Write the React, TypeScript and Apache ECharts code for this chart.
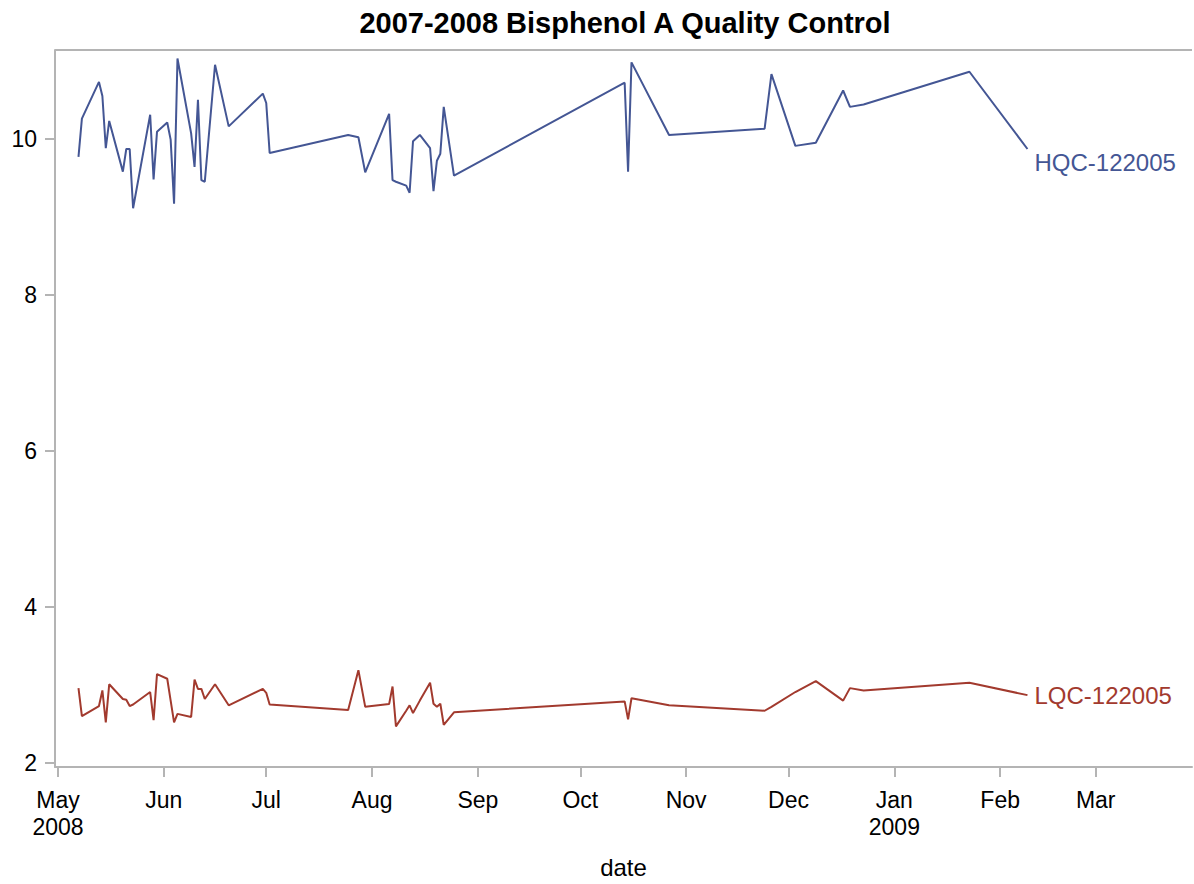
import React, { useEffect, useRef } from "react";
import * as echarts from "echarts";

const dates: string[] = [
  "2008-05-07", "2008-05-08", "2008-05-13", "2008-05-14", "2008-05-15", "2008-05-16",
  "2008-05-20", "2008-05-21", "2008-05-22", "2008-05-23", "2008-05-28", "2008-05-29", "2008-05-30",
  "2008-06-02", "2008-06-03", "2008-06-04", "2008-06-05", "2008-06-09", "2008-06-10", "2008-06-11",
  "2008-06-12", "2008-06-13", "2008-06-16", "2008-06-20", "2008-06-30",
  "2008-07-01", "2008-07-02", "2008-07-25", "2008-07-28", "2008-07-30",
  "2008-08-06", "2008-08-07", "2008-08-08", "2008-08-11", "2008-08-12", "2008-08-13", "2008-08-15",
  "2008-08-18", "2008-08-19", "2008-08-20", "2008-08-21", "2008-08-22", "2008-08-25",
  "2008-10-14", "2008-10-15", "2008-10-16", "2008-10-27",
  "2008-11-24", "2008-11-26",
  "2008-12-03", "2008-12-09", "2008-12-17", "2008-12-19", "2008-12-23",
  "2009-01-23", "2009-02-09",
];

const hqcValues: number[] = [
  9.77, 10.26, 10.73, 10.55, 9.88, 10.23,
  9.58, 9.87, 9.87, 9.11, 10.31, 9.48, 10.09,
  10.21, 9.99, 9.17, 11.03, 10.07, 9.64, 10.5,
  9.47, 9.45, 10.95, 10.16, 10.58,
  10.46, 9.82, 10.05, 10.02, 9.57,
  10.32, 9.47, 9.45, 9.4, 9.31, 9.97, 10.05,
  9.88, 9.33, 9.72, 9.81, 10.41, 9.53,
  10.72, 9.58, 10.98, 10.05,
  10.13, 10.83,
  9.91, 9.95, 10.62, 10.41, 10.44,
  10.86, 9.87,
];

const lqcValues: number[] = [
  2.96, 2.6, 2.73, 2.93, 2.52, 3.01,
  2.82, 2.81, 2.73, 2.75, 2.91, 2.55, 3.14,
  3.08, 2.8, 2.52, 2.63, 2.59, 3.07, 2.95,
  2.95, 2.82, 3.01, 2.74, 2.95,
  2.9, 2.75, 2.68, 3.19, 2.72,
  2.755, 2.98, 2.47, 2.67, 2.74, 2.64, 2.8,
  3.03, 2.76, 2.72, 2.76, 2.49, 2.65,
  2.79, 2.56, 2.83, 2.74,
  2.67, 2.72,
  2.91, 3.05, 2.8, 2.96, 2.93,
  3.03, 2.87,
];

const seriesNames: string[] = ["HQC-122005", "LQC-122005"];
const yTicks: number[] = [2, 4, 6, 8, 10];
const monthTicks: string[] = [
  "2008-05-01", "2008-06-01", "2008-07-01", "2008-08-01", "2008-09-01", "2008-10-01",
  "2008-11-01", "2008-12-01", "2009-01-01", "2009-02-01", "2009-03-01",
];
const monthLabels: string[] = [
  "May\n2008", "Jun", "Jul", "Aug", "Sep", "Oct", "Nov", "Dec", "Jan\n2009", "Feb", "Mar",
];

const FONT = "'Liberation Sans', Arial, Helvetica, sans-serif";
const AXIS_COLOR = "#b4b4b4";

export default function App() {
  const ref = useRef<HTMLDivElement>(null);
  useEffect(() => {
    if (!ref.current) return;
    const chart = echarts.init(ref.current, undefined, { renderer: "svg" });
    const ts = (s: string) => new Date(s + "T00:00:00Z").getTime();
    const tickTs = monthTicks.map(ts);
    const day = 86400000;
    const xMin = ts("2008-05-01") - 0.88 * day;
    const xMax = ts("2008-05-01") + 332.2 * day;
    const labelFor = (v: number) => {
      const i = tickTs.findIndex((t) => Math.abs(t - v) < day / 2);
      return i >= 0 ? monthLabels[i] : "";
    };
    const colors = ["#445694", "#A23A2E"];
    const offsets = [[0, 13], [0, 0]];
    const valuesList = [hqcValues, lqcValues];
    chart.setOption({
      animation: false,
      textStyle: { fontFamily: FONT },
      grid: { left: 55, right: 2, top: 50, bottom: 116, containLabel: false },
      graphic: [
        {
          type: "text",
          x: 625,
          y: 23,
          style: {
            text: "2007-2008 Bisphenol A Quality Control",
            fill: "#000",
            font: `bold 29px ${FONT}`,
            align: "center",
            verticalAlign: "middle",
          },
        },
        {
          type: "line",
          shape: { x1: 55, y1: 50, x2: 1192, y2: 50 },
          style: { stroke: AXIS_COLOR, lineWidth: 2 },
        },
      ],
      xAxis: {
        type: "value",
        min: xMin,
        max: xMax,
        name: "date",
        nameLocation: "middle",
        nameGap: 88,
        nameTextStyle: { fontSize: 24, color: "#000", fontFamily: FONT },
        axisLine: { lineStyle: { color: AXIS_COLOR, width: 2 } },
        axisTick: { show: true, length: 10, customValues: tickTs, lineStyle: { color: AXIS_COLOR, width: 2 } },
        axisLabel: {
          customValues: tickTs,
          formatter: (v: number) => labelFor(v),
          fontSize: 23,
          lineHeight: 27,
          margin: 19,
          color: "#000",
          fontFamily: FONT,
          hideOverlap: false,
        },
        splitLine: { show: false },
      },
      yAxis: {
        type: "value",
        min: 1.949,
        max: 11.139,
        axisLine: { show: true, lineStyle: { color: AXIS_COLOR, width: 2 } },
        axisTick: { show: true, length: 10, customValues: yTicks, lineStyle: { color: AXIS_COLOR, width: 2 } },
        axisLabel: {
          customValues: yTicks,
          fontSize: 23,
          margin: 18,
          color: "#000",
          fontFamily: FONT,
        },
        splitLine: { show: false },
      },
      series: seriesNames.map((name, si) => ({
        name,
        type: "line",
        showSymbol: false,
        symbol: "none",
        data: dates.map((d, i) => [ts(d), valuesList[si][i]]),
        lineStyle: { color: colors[si], width: 2 },
        itemStyle: { color: colors[si] },
        endLabel: {
          show: true,
          formatter: name,
          color: colors[si],
          fontSize: 24,
          fontFamily: FONT,
          distance: 7,
          offset: offsets[si],
        },
      })),
    });
    return () => chart.dispose();
  }, []);
  return (
    <div
      ref={ref}
      style={{ position: "fixed", left: 0, top: 0, width: 1194, height: 884, background: "#fff" }}
    />
  );
}
